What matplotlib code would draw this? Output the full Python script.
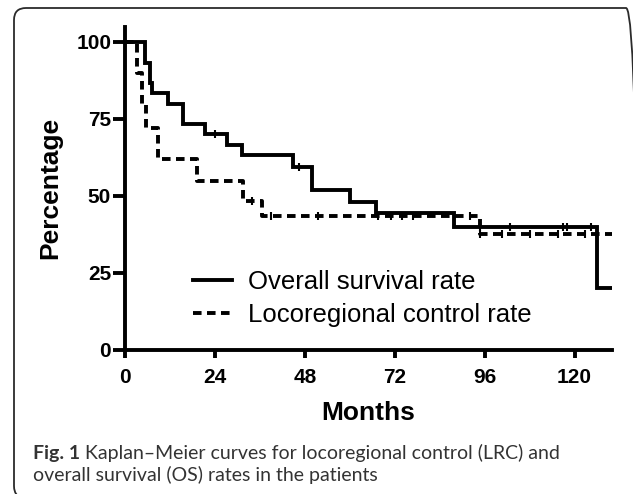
import matplotlib
matplotlib.use("Agg")
import matplotlib.pyplot as plt
from matplotlib.lines import Line2D
from matplotlib.patches import FancyBboxPatch

# Kaplan-Meier step data (months, percent)
os_months = [0, 5.3, 6.7, 7.1, 11.5, 15.4, 21.3, 27.1, 31.1, 44.8, 50, 60, 67, 87.7, 126, 130]
os_pct = [100, 93.3, 86.7, 83.3, 80, 73.3, 70, 66.7, 63.3, 59.3, 52, 48.2, 44.5, 40, 20, 20]
os_cens_t = [24, 46.4, 94.7, 102.7, 116.8, 118, 124.5]
os_cens_y = [70, 59.3, 40, 40, 40, 40, 40]

lrc_months = [0, 3.3, 4.5, 5.5, 8.8, 19.1, 31.5, 36.5, 94.7, 130]
lrc_pct = [100, 90, 80, 72, 62, 55, 48.5, 43.5, 37.5, 37.5]
lrc_cens_t = [34, 39, 51.5, 67.5, 71, 74, 77, 92, 94.7, 100.5, 108, 115.5, 122.7]
lrc_cens_y = [48.5, 43.5, 43.5, 43.5, 43.5, 43.5, 43.5, 43.5, 37.5, 37.5, 37.5, 37.5, 37.5]

xticks = [0, 24, 48, 72, 96, 120]
yticks = [0, 25, 50, 75, 100]

plt.rcParams['font.family'] = ['Liberation Sans', 'DejaVu Sans']

fig = plt.figure(figsize=(6.33, 4.94), dpi=100)
ax = fig.add_axes([0.1975, 0.2915, 0.7694, 0.6547])

lw = 2.8
dash = (2.2, 1.4)
ax.step(os_months, os_pct, where='post', color='black', lw=lw, solid_joinstyle='miter')
ax.step(lrc_months, lrc_pct, where='post', color='black', lw=lw, dashes=dash)
ax.plot(os_cens_t, os_cens_y, ls='none', marker='|', ms=6, mew=1.5, color='black')
ax.plot(lrc_cens_t, lrc_cens_y, ls='none', marker='|', ms=6, mew=1.5, color='black')

ax.set_xlim(0, 130)
ax.set_ylim(0, 105)
ax.set_xticks(xticks)
ax.set_yticks(yticks)
for s in ['top', 'right']:
    ax.spines[s].set_visible(False)
for s in ['left', 'bottom']:
    ax.spines[s].set_linewidth(lw)
ax.tick_params(width=lw, direction='out', labelsize=15)
ax.tick_params(axis='x', length=6, pad=7)
ax.tick_params(axis='y', length=9, pad=1)
for lab in ax.get_xticklabels() + ax.get_yticklabels():
    lab.set_fontweight('bold')

ax.set_xlabel('Months', fontsize=19, fontweight='bold', labelpad=10)
ax.set_ylabel('Percentage', fontsize=19, fontweight='bold', labelpad=10)

handles = [Line2D([], [], color='black', lw=lw),
           Line2D([], [], color='black', lw=lw, dashes=dash)]
ax.legend(handles, ['Overall survival rate', 'Locoregional control rate'],
          loc='center left', bbox_to_anchor=(0.14, 0.159), frameon=False,
          fontsize=18.5, borderpad=0, borderaxespad=0, handlelength=1.5,
          handletextpad=0.65, labelspacing=0.32)

# caption box and caption text
box = FancyBboxPatch((14, -4), 624, 494 - 8 + 4, boxstyle='round,pad=0,rounding_size=12',
                     transform=None, fill=False, ec='#2b2b2b', lw=1.3)
fig.patches.append(box)

cap_color = '#333333'
cap_font = ['Lato', 'DejaVu Sans']
t1 = fig.text(33 / 633, 1 - 453 / 494, 'Fig. 1', fontsize=14, fontweight='bold',
              color=cap_color, va='center', family=cap_font)
ax.annotate('Kaplan\u2013Meier curves for locoregional control (LRC) and',
            xy=(1, 0), xycoords=t1, xytext=(3.5, 0), textcoords='offset points',
            va='bottom', ha='left', fontsize=14, color=cap_color,
            family=cap_font, annotation_clip=False)
fig.text(33 / 633, 1 - 475 / 494, 'overall survival (OS) rates in the patients',
         fontsize=14, color=cap_color, va='center', family=cap_font)

fig.savefig('out.png', dpi=100)
